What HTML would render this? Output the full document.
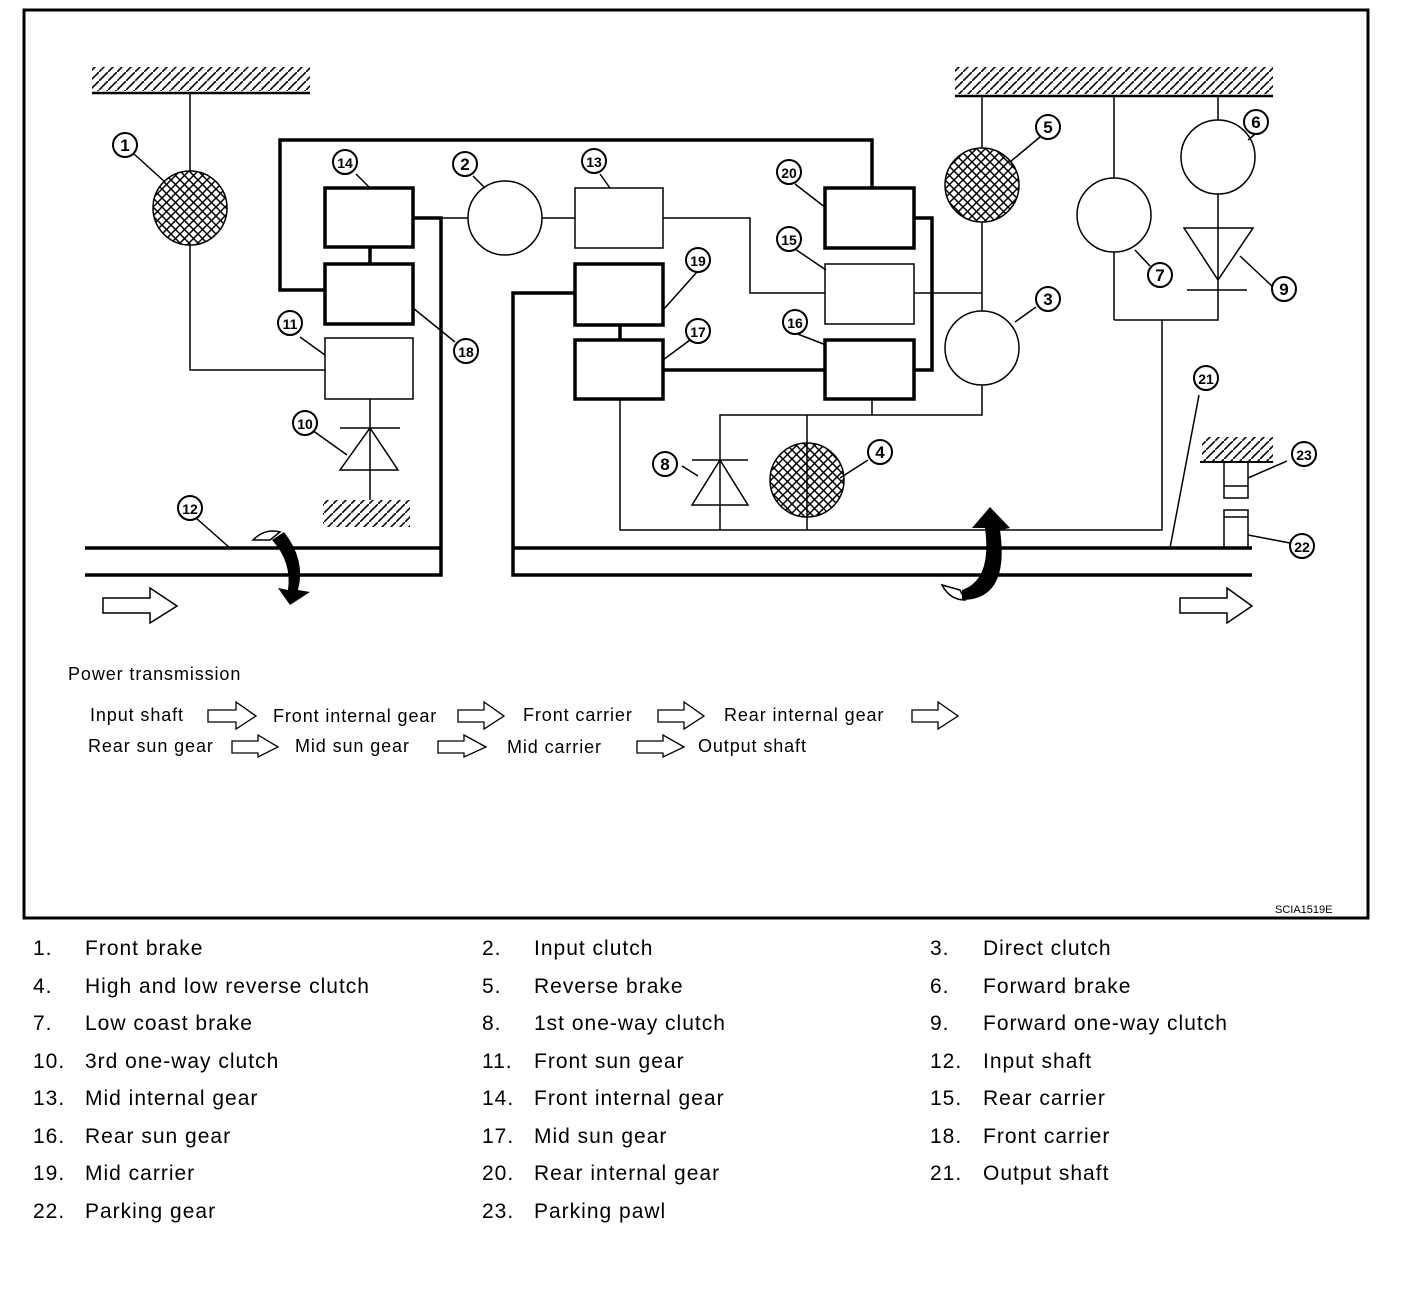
<!DOCTYPE html>
<html><head><style>
body{margin:0;background:#fff;width:1408px;height:1292px;overflow:hidden;font-family:"Liberation Sans",Arial,sans-serif}
svg{position:absolute;left:0;top:0}
.lg{position:absolute;font-size:21px;color:#000;white-space:nowrap;letter-spacing:1px}
</style></head><body>
<svg width="1408" height="1292" viewBox="0 0 1408 1292">
<defs>
<pattern id="h" width="9" height="9" patternUnits="userSpaceOnUse"><path d="M-2,11 L11,-2" stroke="#000" stroke-width="1.6"/></pattern>
<pattern id="x" width="9" height="9" patternUnits="userSpaceOnUse"><path d="M0,9 L9,0 M0,0 L9,9" stroke="#000" stroke-width="1.5"/></pattern>
</defs>
<g fill="none" stroke="#000">
<rect x="24" y="10" width="1344" height="908" stroke-width="3"/>
<rect x="92" y="67" width="218" height="24" fill="url(#h)" stroke="none"/><line x1="92" y1="93" x2="310" y2="93" stroke-width="2.5"/>
<rect x="955" y="67" width="318" height="27" fill="url(#h)" stroke="none"/><line x1="955" y1="96" x2="1273" y2="96" stroke-width="2.5"/>
<rect x="323" y="500" width="87" height="27" fill="url(#h)" stroke="none"/>
<rect x="1202" y="437" width="71" height="24" fill="url(#h)" stroke="none"/><line x1="1200" y1="462" x2="1273" y2="462" stroke-width="2"/>
<g stroke-width="1.5">
<path d="M190,93V171M190,245V370H325"/>
<path d="M370,399V470M340,428H400M370,470V500"/>
<path d="M340,470L370,428L398,470Z"/>
<path d="M413,218H468M542,218H575M663,218H750V293H825M914,293H982"/>
<path d="M982,96V148M982,222V311M982,385V415H720V530M872,399V415M807,415V530"/>
<path d="M620,399V530H1162V320M1114,320H1218V228M1114,96V178M1114,252V320M1218,96V120M1218,194V228"/>
<path d="M1184,228H1253L1218,280Z M1187,290H1247"/>
<path d="M692,460H748M692,505H748L720,460Z"/>
<rect x="325" y="338" width="88" height="61"/>
<rect x="575" y="188" width="88" height="60"/>
<rect x="825" y="264" width="89" height="60"/>
<rect x="1224" y="462" width="24" height="36"/><line x1="1224" y1="486" x2="1248" y2="486"/>
<rect x="1224" y="510" width="24" height="38"/><line x1="1224" y1="517" x2="1248" y2="517"/>
<circle cx="505" cy="218" r="37"/><circle cx="982" cy="348" r="37"/>
<circle cx="1114" cy="215" r="37"/><circle cx="1218" cy="157" r="37"/>
</g>
<circle cx="190" cy="208" r="37" fill="url(#x)" stroke-width="1.5"/>
<circle cx="982" cy="185" r="37" fill="url(#x)" stroke-width="1.5"/>
<circle cx="807" cy="480" r="37" fill="url(#x)" stroke-width="1.5"/>
<g stroke-width="3.5">
<path d="M325,290H280V140H872V188"/>
<rect x="325" y="188" width="88" height="59"/><rect x="325" y="264" width="88" height="60"/>
<path d="M370,247V264M413,218H441V575H85M85,548H441"/>
<rect x="575" y="264" width="88" height="61"/><rect x="575" y="340" width="88" height="59"/>
<rect x="825" y="188" width="89" height="60"/><rect x="825" y="340" width="89" height="59"/>
<path d="M620,325V340M663,370H825M914,218H932V370H914"/>
<path d="M575,293H513V575H1252M513,548H1252"/>
</g>
<g stroke-width="1.5">
<path d="M134,154L165,182M356,174L370,188M473,176L485,188M600,174L610,188M795,184L826,208M795,249L826,270M795,333L826,345M697,272L663,310M690,340L663,360M1040,137L1010,162M1036,307L1015,322M1135,250L1150,266M1273,287L1240,256M1260,130L1248,140M455,342L413,308M300,337L325,355M312,430L347,455M196,518L230,548M682,466L698,476M868,460L840,478M1199,395L1170,548M1287,461L1248,478M1290,543L1248,535"/>
</g>
<path d="M103,598H150V588L177,606L150,623V613H103Z" stroke-width="1.5"/>
<path d="M1180,598H1227V588L1252,606L1227,623V613H1180Z" stroke-width="1.5"/>
<path d="M208,710H236V702L256,716L236,729V722H208Z M458,710H484V702L504,716L484,729V722H458Z M658,710H684V702L704,716L684,729V722H658Z M912,710H938V702L958,716L938,729V722H912Z M232,741H258V735L278,747L258,757V753H232Z M438,741H464V735L486,747L464,757V753H438Z M637,741H663V735L684,747L663,757V753H637Z" stroke-width="1.3"/>
</g>
<path d="M253,540 Q265,528 280,532 L270,540 Z" fill="#fff" stroke="#000" stroke-width="1.5"/>
<path d="M284,532 Q306,560 298,590 L310,592 L290,605 L278,588 L288,590 Q292,562 272,540 Z" fill="#000"/>
<path d="M942,585 Q950,600 965,600 L960,590 Z" fill="#fff" stroke="#000" stroke-width="1.5"/>
<path d="M962,600 Q1010,600 1000,530 L1010,528 L990,507 L972,528 L985,528 Q992,580 962,590 Z" fill="#000"/>
<g font-family="Liberation Sans,Arial" font-weight="bold" font-size="17" text-anchor="middle">
<g fill="#fff" stroke="#000" stroke-width="2">
<circle cx="125" cy="145" r="12"/><circle cx="345" cy="162" r="12"/><circle cx="465" cy="164" r="12"/><circle cx="594" cy="161" r="12"/><circle cx="789" cy="172" r="12"/><circle cx="1048" cy="127" r="12"/><circle cx="1256" cy="122" r="12"/><circle cx="789" cy="239" r="12"/><circle cx="698" cy="260" r="12"/><circle cx="1048" cy="299" r="12"/><circle cx="1160" cy="275" r="12"/><circle cx="1284" cy="289" r="12"/><circle cx="290" cy="323" r="12"/><circle cx="466" cy="351" r="12"/><circle cx="698" cy="331" r="12"/><circle cx="795" cy="322" r="12"/><circle cx="305" cy="423" r="12"/><circle cx="665" cy="464" r="12"/><circle cx="880" cy="452" r="12"/><circle cx="1206" cy="378" r="12"/><circle cx="1304" cy="454" r="12"/><circle cx="190" cy="508" r="12"/><circle cx="1302" cy="546" r="12"/>
</g>
<text x="125" y="151">1</text><text x="345" y="168" font-size="14">14</text><text x="465" y="170">2</text><text x="594" y="167" font-size="14">13</text><text x="789" y="178" font-size="14">20</text><text x="1048" y="133">5</text><text x="1256" y="128">6</text><text x="789" y="245" font-size="14">15</text><text x="698" y="266" font-size="14">19</text><text x="1048" y="305">3</text><text x="1160" y="281">7</text><text x="1284" y="295">9</text><text x="290" y="329" font-size="14">11</text><text x="466" y="357" font-size="14">18</text><text x="698" y="337" font-size="14">17</text><text x="795" y="328" font-size="14">16</text><text x="305" y="429" font-size="14">10</text><text x="665" y="470">8</text><text x="880" y="458">4</text><text x="1206" y="384" font-size="14">21</text><text x="1304" y="460" font-size="14">23</text><text x="190" y="514" font-size="14">12</text><text x="1302" y="552" font-size="14">22</text>
</g>
<g font-family="Liberation Sans,Arial" font-size="18" letter-spacing="0.9">
<text x="68" y="680">Power transmission</text>
<text x="90" y="721">Input shaft</text><text x="273" y="722">Front internal gear</text><text x="523" y="721">Front carrier</text><text x="724" y="721">Rear internal gear</text>
<text x="88" y="752">Rear sun gear</text><text x="295" y="752">Mid sun gear</text><text x="507" y="753">Mid carrier</text><text x="698" y="752">Output shaft</text>
<text x="1275" y="913" font-size="11" letter-spacing="0">SCIA1519E</text>
</g>
</svg>
<div class="lg" style="left:33px;top:930px;line-height:37.5px">1.<br>4.<br>7.<br>10.<br>13.<br>16.<br>19.<br>22.</div>
<div class="lg" style="left:85px;top:930px;line-height:37.5px">Front brake<br>High and low reverse clutch<br>Low coast brake<br>3rd one-way clutch<br>Mid internal gear<br>Rear sun gear<br>Mid carrier<br>Parking gear</div>
<div class="lg" style="left:482px;top:930px;line-height:37.5px">2.<br>5.<br>8.<br>11.<br>14.<br>17.<br>20.<br>23.</div>
<div class="lg" style="left:534px;top:930px;line-height:37.5px">Input clutch<br>Reverse brake<br>1st one-way clutch<br>Front sun gear<br>Front internal gear<br>Mid sun gear<br>Rear internal gear<br>Parking pawl</div>
<div class="lg" style="left:930px;top:930px;line-height:37.5px">3.<br>6.<br>9.<br>12.<br>15.<br>18.<br>21.</div>
<div class="lg" style="left:983px;top:930px;line-height:37.5px">Direct clutch<br>Forward brake<br>Forward one-way clutch<br>Input shaft<br>Rear carrier<br>Front carrier<br>Output shaft</div>
</body></html>
